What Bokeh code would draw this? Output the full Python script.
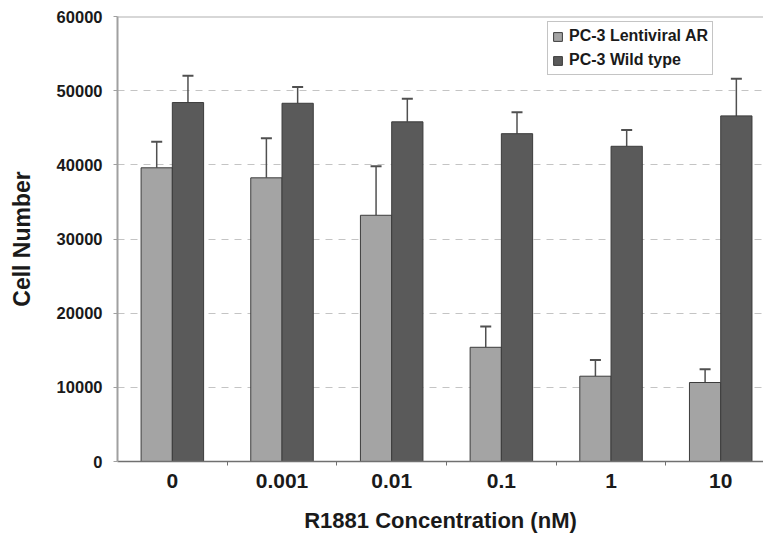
from bokeh.plotting import figure
from bokeh.models import (Range1d, FixedTicker, Whisker, ColumnDataSource, Span,
                          Legend, LegendItem, TeeHead)
from bokeh.embed import file_html
from bokeh.resources import INLINE

categories = ["0", "0.001", "0.01", "0.1", "1", "10"]
lenti = [39600, 38250, 33200, 15400, 11500, 10650]
lenti_err = [3500, 5350, 6600, 2800, 2200, 1800]
wild = [48400, 48300, 45800, 44200, 42500, 46600]
wild_err = [3600, 2200, 3100, 2900, 2200, 5000]
y_ticks = [0, 10000, 20000, 30000, 40000, 50000, 60000]

idx = list(range(len(categories)))
bw = 0.285
off = bw / 2

src_l = ColumnDataSource(dict(x=[i - off for i in idx], top=lenti,
                              up=[v + e for v, e in zip(lenti, lenti_err)]))
src_w = ColumnDataSource(dict(x=[i + off for i in idx], top=wild,
                              up=[v + e for v, e in zip(wild, wild_err)]))

p = figure(width=763, height=537, output_backend="svg", toolbar_location=None,
           x_range=Range1d(-0.5, 5.39), y_range=Range1d(0, 60000),
           min_border_left=117, min_border_top=16, min_border_bottom=76, min_border_right=0)
p.outline_line_color = None
p.background_fill_color = "white"

# grid
p.xgrid.grid_line_color = None
p.ygrid.ticker = FixedTicker(ticks=y_ticks[1:-1])
p.ygrid.grid_line_color = "#c4c4c4"
p.ygrid.grid_line_dash = "7 6"
p.ygrid.grid_line_width = 1.2
p.add_layout(Span(location=60000, dimension="width", line_color="#b0b0b0", line_width=2))

# error bars
lenti_color = "#a4a4a4"
wild_color = "#5a5a5a"
edge = "#3c3c3c"
for src in (src_l, src_w):
    w = Whisker(source=src, base="x", lower="top", upper="up", dimension="height",
                line_color="#505050", line_width=1.5, lower_head=None,
                upper_head=TeeHead(size=11, line_color="#505050", line_width=2))
    p.add_layout(w)

r1 = p.vbar(x="x", top="top", width=bw, source=src_l, fill_color=lenti_color,
            line_color=edge, line_width=1)
r2 = p.vbar(x="x", top="top", width=bw, source=src_w, fill_color=wild_color,
            line_color=edge, line_width=1)

# axes
p.xaxis.ticker = FixedTicker(ticks=idx, minor_ticks=[i + 0.5 for i in idx[:-1]])
p.xaxis.major_label_overrides = {i: c for i, c in zip(idx, categories)}
p.xaxis.major_tick_line_color = None
p.xaxis.minor_tick_line_color = "#707070"
p.xaxis.minor_tick_out = 4
p.xaxis.minor_tick_in = 0
p.xaxis.axis_line_color = "#707070"
p.xaxis.axis_line_width = 1.5
p.xaxis.major_label_text_font = "Liberation Sans"
p.xaxis.major_label_text_font_style = "bold"
p.xaxis.major_label_text_font_size = "21px"
p.xaxis.major_label_text_color = "#1a1a1a"
p.xaxis.major_label_standoff = 6
p.xaxis.axis_label = "R1881 Concentration (nM)"
p.xaxis.axis_label_text_font = "Liberation Sans"
p.xaxis.axis_label_text_font_style = "bold"
p.xaxis.axis_label_text_font_size = "22px"
p.xaxis.axis_label_text_color = "#1a1a1a"
p.xaxis.axis_label_standoff = 17

p.yaxis.ticker = FixedTicker(ticks=y_ticks)
p.yaxis.formatter.use_scientific = False
p.yaxis.axis_line_color = "#a0a0a0"
p.yaxis.axis_line_width = 2
p.yaxis.major_tick_line_color = "#a0a0a0"
p.yaxis.major_tick_out = 4
p.yaxis.major_tick_in = 0
p.yaxis.minor_tick_line_color = None
p.yaxis.major_label_text_font = "Liberation Sans"
p.yaxis.major_label_text_font_style = "bold"
p.yaxis.major_label_text_font_size = "16.5px"
p.yaxis.major_label_text_color = "#1a1a1a"
p.yaxis.major_label_standoff = 11
p.yaxis.axis_label = "Cell Number"
p.yaxis.axis_label_text_font = "Liberation Sans"
p.yaxis.axis_label_text_font_style = "bold"
p.yaxis.axis_label_text_font_size = "23px"
p.yaxis.axis_label_text_color = "#1a1a1a"
p.yaxis.axis_label_standoff = 19

legend = Legend(items=[LegendItem(label="PC-3 Lentiviral AR", renderers=[r1]),
                       LegendItem(label="PC-3 Wild type", renderers=[r2])],
                location=(430, 386))
legend.label_text_font = "Liberation Sans"
legend.label_text_font_style = "bold"
legend.label_text_font_size = "16px"
legend.label_text_color = "#1a1a1a"
legend.glyph_width = 11
legend.glyph_height = 11
legend.label_height = 20
legend.label_standoff = 6
legend.padding = 4
legend.spacing = 4
legend.margin = 0
legend.border_line_color = "#8a8a8a"
legend.border_line_width = 1.5
legend.background_fill_alpha = 1
p.add_layout(legend)

open("out.html", "w").write(file_html(p, INLINE))
